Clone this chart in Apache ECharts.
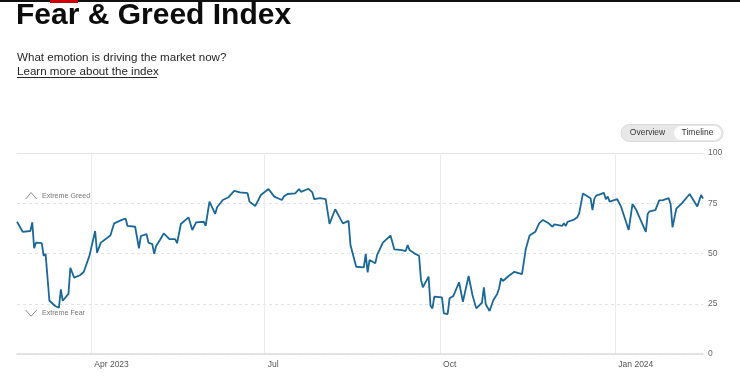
<!DOCTYPE html>
<html><head><meta charset="utf-8">
<script src="https://cdn.jsdelivr.net/npm/echarts@6/dist/echarts.min.js"></script>
<style>html,body{margin:0;padding:0;background:#fff}#c{width:740px;height:376px}</style>
</head><body><div id="c"></div>
<script>
const dates = [
'2023-02-21','2023-02-24','2023-02-28','2023-03-01','2023-03-02','2023-03-03','2023-03-06','2023-03-07','2023-03-08','2023-03-10',
'2023-03-13','2023-03-14','2023-03-15','2023-03-16','2023-03-17','2023-03-20','2023-03-21','2023-03-23','2023-03-26','2023-03-27',
'2023-03-28','2023-03-31','2023-04-03','2023-04-04','2023-04-06','2023-04-11','2023-04-13','2023-04-17','2023-04-18','2023-04-19',
'2023-04-20','2023-04-24','2023-04-26','2023-04-27','2023-04-30','2023-05-01','2023-05-03','2023-05-04','2023-05-05','2023-05-07',
'2023-05-09','2023-05-12','2023-05-15','2023-05-16','2023-05-18','2023-05-22','2023-05-24','2023-05-26','2023-05-30','2023-05-31',
'2023-06-02','2023-06-05','2023-06-06','2023-06-09','2023-06-12','2023-06-15','2023-06-18','2023-06-22','2023-06-23','2023-06-26',
'2023-06-29','2023-07-03','2023-07-06','2023-07-10','2023-07-11','2023-07-13','2023-07-17','2023-07-19','2023-07-20','2023-07-24',
'2023-07-26','2023-07-27','2023-07-30','2023-08-02','2023-08-04','2023-08-07','2023-08-10','2023-08-11','2023-08-14','2023-08-15',
'2023-08-18','2023-08-22','2023-08-23','2023-08-24','2023-08-25','2023-08-28','2023-08-29','2023-09-01','2023-09-05','2023-09-07',
'2023-09-11','2023-09-13','2023-09-14','2023-09-15','2023-09-18','2023-09-20','2023-09-21','2023-09-22','2023-09-25','2023-09-26',
'2023-09-27','2023-09-28','2023-10-02','2023-10-03','2023-10-05','2023-10-06','2023-10-08','2023-10-11','2023-10-13','2023-10-16',
'2023-10-18','2023-10-20','2023-10-23','2023-10-24','2023-10-25','2023-10-27','2023-10-29','2023-10-31','2023-11-01','2023-11-02',
'2023-11-03','2023-11-06','2023-11-09','2023-11-10','2023-11-13','2023-11-15','2023-11-17','2023-11-20','2023-11-21','2023-11-22',
'2023-11-24','2023-11-27','2023-11-29','2023-11-30','2023-12-04','2023-12-05','2023-12-06','2023-12-07','2023-12-10','2023-12-12',
'2023-12-13','2023-12-15','2023-12-19','2023-12-20','2023-12-21','2023-12-22','2023-12-26','2023-12-27','2023-12-28','2023-12-29',
'2024-01-02','2024-01-04','2024-01-08','2024-01-10','2024-01-12','2024-01-13','2024-01-17','2024-01-18','2024-01-19','2024-01-22',
'2024-01-24','2024-01-26','2024-01-29','2024-01-30','2024-01-31','2024-02-02','2024-02-05','2024-02-09','2024-02-13','2024-02-15',
'2024-02-16'
];
const values = [
65.8,60.8,61.2,65.5,52.6,55.4,55.2,48.8,49.8,26.5,
23.9,24.4,23.0,32.2,26.5,29.9,42.9,38.0,39.2,40.1,
40.8,48.8,61.2,50.4,55.4,59.0,65.0,66.7,65.8,67.3,
63.7,63.3,52.6,58.7,59.6,55.4,54.7,49.8,53.7,56.7,
60.0,57.2,57.2,55.1,64.7,68.0,61.7,65.5,65.8,63.8,
75.8,69.7,73.0,76.6,78.0,81.2,80.4,80.0,75.8,73.6,
79.1,82.1,78.3,76.6,78.3,79.6,79.9,82.1,80.7,82.2,
80.4,77.0,77.5,77.1,64.7,72.0,66.7,65.0,66.2,54.2,
43.4,43.1,49.8,40.6,46.8,45.1,49.3,55.4,58.9,52.1,
51.7,51.2,54.2,51.7,49.8,48.9,36.8,33.2,38.5,24.0,
22.7,28.5,28.2,20.2,19.9,27.7,28.9,35.7,26.0,38.8,
29.4,22.7,25.5,33.2,24.7,21.4,26.9,29.9,32.7,37.7,
36.3,38.8,40.9,41.3,39.7,52.2,58.9,60.8,61.2,65.0,
66.7,65.0,63.3,64.5,63.7,65.0,63.7,65.8,66.7,68.0,
70.0,79.9,77.5,71.6,77.3,78.8,80.2,77.0,78.3,75.8,
77.0,73.3,61.7,74.6,71.6,70.8,60.8,69.8,71.0,71.6,
76.4,76.6,77.5,74.5,63.0,72.3,75.1,79.6,73.4,79.1,
77.3
];
const xTickMonths = ['2023-04','2023-07','2023-10','2024-01'];
const xTickLabels = ['Apr 2023','Jul','Oct','Jan 2024'];
const yMin = 0, yMax = 100, yStep = 25;
const zoneLabels = ['Extreme Greed','Extreme Fear'];
const toggleLabels = ['Overview','Timeline'];
const titleText = 'Fear & Greed Index';
const subtitleText = 'What emotion is driving the market now?';
const linkText = 'Learn more about the index';

const FONT = '"Liberation Sans", Arial, Helvetica, sans-serif';
function pad(n){return n<10?'0'+n:''+n;}
const chart = echarts.init(document.getElementById('c'), null, {renderer:'canvas'});
const option = {
  animation:false,
  backgroundColor:'#ffffff',
  title:[
    {text:titleText, left:16, top:1, padding:0, textStyle:{fontSize:30, fontWeight:'bold', color:'#0c0c0c', fontFamily:FONT}},
    {text:subtitleText, left:17, top:52, padding:0, textStyle:{fontSize:11.6, fontWeight:'normal', color:'#262626', fontFamily:FONT}},
    {text:linkText, left:17, top:66, padding:0, textStyle:{fontSize:11.6, fontWeight:'normal', color:'#262626', fontFamily:FONT}}
  ],
  grid:{left:17, right:37, top:153, bottom:22},
  xAxis:{
    type:'time', min:'dataMin', max:'dataMax',
    minInterval:100*86400000, maxInterval:100*86400000,
    axisLine:{show:true, lineStyle:{color:'#dcdcdc', width:1.5}},
    axisTick:{show:false},
    splitLine:{show:true, showMinLine:false, showMaxLine:false, lineStyle:{color:'#ececec', width:1}},
    axisLabel:{
      align:'left', margin:6, padding:[0,0,0,3], fontSize:8.5, color:'#555', fontFamily:FONT, hideOverlap:false,
      formatter:function(v){
        const d = new Date(v);
        const k = d.getFullYear()+'-'+pad(d.getMonth()+1);
        const i = xTickMonths.indexOf(k);
        return (i>=0 && d.getDate()===1) ? xTickLabels[i] : '';
      }
    }
  },
  yAxis:{
    type:'value', position:'right', min:yMin, max:yMax, interval:yStep,
    axisLine:{show:false}, axisTick:{show:false},
    splitLine:{show:true, lineStyle:{color:'#e2e2e2', type:[3,3], width:1}},
    axisLabel:{margin:5, fontSize:8.5, color:'#666', fontFamily:FONT}
  },
  series:[{
    type:'line',
    data:dates.map((d,i)=>[d, values[i]]),
    showSymbol:false, symbol:'none',
    lineStyle:{color:'#1a6897', width:1.8},
    markLine:{silent:true, symbol:'none', label:{show:false}, lineStyle:{color:'#e6e6e6', type:'solid', width:1}, data:[{yAxis:yMax}]}
  }],
  graphic:[
    {type:'rect', shape:{x:0,y:0,width:740,height:2}, style:{fill:'#111'}},
    {type:'rect', shape:{x:50,y:0,width:28,height:3}, style:{fill:'#cc0000'}},
    {type:'line', shape:{x1:17,y1:77.5,x2:157,y2:77.5}, style:{stroke:'#262626', lineWidth:1}},
    {type:'rect', shape:{x:621,y:124.5,width:102,height:17,r:8.5}, style:{fill:'#e8e8e8', stroke:'#dadada', lineWidth:1}},
    {type:'rect', shape:{x:674,y:126,width:47,height:14,r:7}, style:{fill:'#ffffff'}},
    {type:'text', x:647.5, y:133, style:{text:toggleLabels[0], align:'center', verticalAlign:'middle', font:'8.5px '+FONT, fill:'#333'}},
    {type:'text', x:697.5, y:133, style:{text:toggleLabels[1], align:'center', verticalAlign:'middle', font:'8.5px '+FONT, fill:'#333'}},
    {type:'polyline', shape:{points:[[25.7,199],[31,192.5],[36.7,199]]}, style:{stroke:'#8a8a8a', lineWidth:1, fill:null}},
    {type:'polyline', shape:{points:[[25.7,310],[31,316.3],[36.7,310]]}, style:{stroke:'#8a8a8a', lineWidth:1, fill:null}},
    {type:'text', x:42, y:195.7, z:100, style:{text:zoneLabels[0], align:'left', verticalAlign:'middle', font:'7.1px '+FONT, fill:'#777'}},
    {type:'text', x:42, y:313.3, z:100, style:{text:zoneLabels[1], align:'left', verticalAlign:'middle', font:'7.1px '+FONT, fill:'#777'}}
  ]
};
chart.setOption(option);
</script>
</body></html>
